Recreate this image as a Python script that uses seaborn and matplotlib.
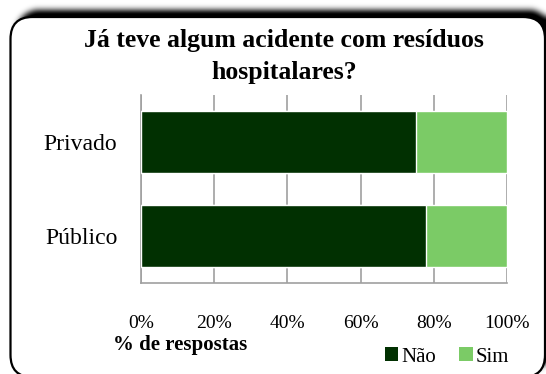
import numpy as np
import pandas as pd
import matplotlib
matplotlib.use("Agg")
import matplotlib.pyplot as plt
import seaborn as sns
from matplotlib.patches import FancyBboxPatch, Patch

# Survey answers (% of respondents)
categorias = ["Privado", "Público"]
nao = [75, 78]
sim = [25, 22]
xticks = [0, 20, 40, 60, 80, 100]
xtick_labels = ["0%", "20%", "40%", "60%", "80%", "100%"]

titulo = "Já teve algum acidente com resíduos\nhospitalares?"
eixo_x = "% de respostas"
legenda = ["Não", "Sim"]

cor_nao = "#013001"
cor_sim = "#7bcb66"
cor_grade = "#a0a0a0"

sns.set_theme(style="white")
plt.rcParams["font.family"] = ["Liberation Serif", "DejaVu Serif"]
plt.rcParams["text.color"] = "black"
plt.rcParams["xtick.color"] = "black"
plt.rcParams["ytick.color"] = "black"
plt.rcParams["axes.labelcolor"] = "black"

df = pd.DataFrame({"categoria": categorias, "Não": nao, "Sim": sim})
df["total"] = df["Não"] + df["Sim"]

W, H = 546, 374
fig = plt.figure(figsize=(W / 100, H / 100), dpi=100)
fig.patch.set_facecolor("white")

# ---- background frame: rounded box with a soft drop shadow ----
bg = fig.add_axes([0, 0, 1, 1], zorder=0)
bg.set_xlim(0, W)
bg.set_ylim(H, 0)
bg.axis("off")

bx0, by0, bx1, by1, rad = 10.5, 17.0, 545.0, 377.0, 22.0


def rounded_mask(x0, y0, x1, y1, r):
    yy, xx = np.mgrid[0:H, 0:W] + 0.5
    dx = np.maximum(np.maximum(x0 + r - xx, xx - (x1 - r)), 0)
    dy = np.maximum(np.maximum(y0 + r - yy, yy - (y1 - r)), 0)
    inside = (xx >= x0) & (xx <= x1) & (yy >= y0) & (yy <= y1)
    return (inside & (dx ** 2 + dy ** 2 <= r ** 2)).astype(float)


def gaussian_blur(img, sigma):
    k = np.arange(-int(3 * sigma), int(3 * sigma) + 1)
    kern = np.exp(-k ** 2 / (2 * sigma ** 2))
    kern /= kern.sum()
    pad = len(k) // 2
    p = np.pad(img, pad, mode="edge")
    tmp = np.apply_along_axis(lambda r: np.convolve(r, kern, mode="valid"), 1, p)
    return np.apply_along_axis(lambda c: np.convolve(c, kern, mode="valid"), 0, tmp)


shadow = gaussian_blur(rounded_mask(bx0 + 6, by0 - 7, bx1 + 6, by1 - 7, rad), 3.0)
rgba = np.zeros((H, W, 4))
rgba[..., 3] = np.clip(shadow * 1.1, 0, 1)
bg.imshow(rgba, extent=(0, W, H, 0), interpolation="bilinear", zorder=1)

box = FancyBboxPatch((bx0 + rad, by0 + rad), (bx1 - bx0) - 2 * rad, (by1 - by0) - 2 * rad,
                     boxstyle=f"round,pad={rad}", facecolor="white",
                     edgecolor="black", linewidth=1.6, zorder=2)
bg.add_patch(box)

# ---- stacked horizontal bars ----
ax = fig.add_axes([141 / W, 1 - 283 / H, 366 / W, 188 / H], zorder=2)
ax.set_facecolor("none")

sns.barplot(data=df, x="total", y="categoria", orient="h", color=cor_sim,
            saturation=1, width=0.66, ax=ax, zorder=3)
sns.barplot(data=df, x="Não", y="categoria", orient="h", color=cor_nao,
            saturation=1, width=0.66, ax=ax, zorder=3)

ax.set_xlim(0, 100)
ax.set_ylim(1.5, -0.5)
ax.set_xticks(xticks)
ax.set_xticklabels(xtick_labels, fontsize=14)
ax.tick_params(axis="x", length=0, pad=23, colors="black")
ax.tick_params(axis="y", length=0, pad=17, labelsize=17, colors="black")
ax.set_xlabel("")
ax.set_ylabel("")
ax.xaxis.grid(True, color=cor_grade, linewidth=1.2, zorder=0)
ax.set_axisbelow(True)
for s in ["top", "right"]:
    ax.spines[s].set_visible(False)
for s in ["left", "bottom"]:
    ax.spines[s].set_color(cor_grade)
    ax.spines[s].set_linewidth(1.2)

# ---- titles and legend ----
fig.text(284 / W, 1 - 56.5 / H, titulo, ha="center", va="center", color="black",
         fontsize=18.5, fontweight="bold", linespacing=1.5, zorder=5)
fig.text(113 / W, 1 - 345 / H, eixo_x, ha="left", va="center", color="black",
         fontsize=15, fontweight="bold", zorder=5)

handles = [Patch(facecolor=cor_nao, edgecolor="none"),
           Patch(facecolor=cor_sim, edgecolor="none")]
fig.legend(handles, legenda, loc="center", bbox_to_anchor=(447 / W, 1 - 357 / H),
           ncol=2, frameon=False, fontsize=15, handlelength=0.65, handleheight=0.65,
           handletextpad=0.15, columnspacing=1.1, borderaxespad=0, borderpad=0,
           labelcolor="black")

fig.savefig("out.png", dpi=100, facecolor="white")
